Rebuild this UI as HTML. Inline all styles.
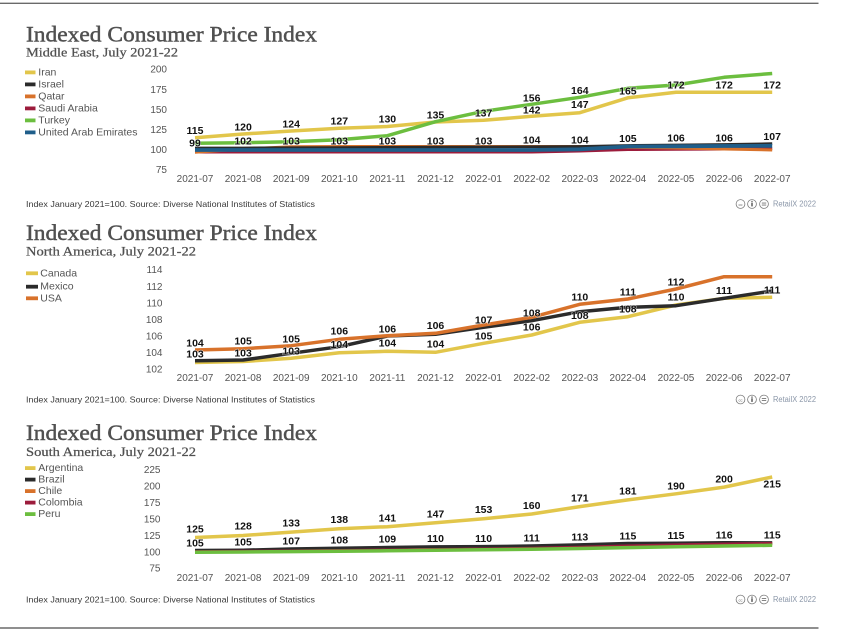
<!DOCTYPE html>
<html>
<head>
<meta charset="utf-8">
<style>
  html, body { margin:0; padding:0; background:#ffffff; }
  svg { display:block; }
  .title { font-family:"Liberation Serif", serif; font-size:22px; fill:#505050; stroke:#505050; stroke-width:0.45px; }
  .sub { font-family:"Liberation Serif", serif; font-size:13px; fill:#505050; stroke:#505050; stroke-width:0.25px; }
  .leg { font-family:"Liberation Sans", sans-serif; font-size:10.5px; fill:#555; }
  .ytk { font-family:"Liberation Sans", sans-serif; font-size:10px; fill:#555; text-anchor:end; }
  .xtk { font-family:"Liberation Sans", sans-serif; font-size:10px; fill:#555; text-anchor:middle; }
  .lbl { font-family:"Liberation Sans", sans-serif; font-size:10.5px; font-weight:bold; fill:#111; text-anchor:middle; paint-order:stroke; stroke:#ffffff; stroke-width:1.2px; stroke-opacity:0.6; }
  .foot { font-family:"Liberation Sans", sans-serif; font-size:8.5px; fill:#3a3a3a; }
  .rx { font-family:"Liberation Sans", sans-serif; font-size:8px; fill:#8a96a8; }
  .ln { fill:none; stroke-linejoin:round; stroke-linecap:butt; }
</style>
</head>
<body>
<svg width="844" height="629" viewBox="0 0 844 629" xmlns="http://www.w3.org/2000/svg">
  <rect x="0" y="0" width="844" height="629" fill="#ffffff"/>
  <line x1="0" y1="3.3" x2="818.5" y2="3.3" stroke="#6a6a6a" stroke-width="1.3"/>
  <line x1="0" y1="628" x2="818.5" y2="628" stroke="#6a6a6a" stroke-width="1.6"/>

  <!-- ================= CHART 1: MIDDLE EAST ================= -->
  <text class="title" x="26" y="41.5" textLength="291" lengthAdjust="spacingAndGlyphs">Indexed Consumer Price Index</text>
  <text class="sub" x="26" y="56.5" textLength="152" lengthAdjust="spacingAndGlyphs">Middle East, July 2021-22</text>

  <rect x="25" y="70.5" width="10.5" height="3.8" fill="#E2C64B"/>
  <text class="leg" x="38.3" y="72.3" dominant-baseline="central">Iran</text>
  <rect x="25" y="82.5" width="10.5" height="3.8" fill="#2B2B2B"/>
  <text class="leg" x="38.3" y="84.3" dominant-baseline="central">Israel</text>
  <rect x="25" y="94.5" width="10.5" height="3.8" fill="#D8722B"/>
  <text class="leg" x="38.3" y="96.3" dominant-baseline="central">Qatar</text>
  <rect x="25" y="106.5" width="10.5" height="3.8" fill="#9C1C3C"/>
  <text class="leg" x="38.3" y="108.3" dominant-baseline="central">Saudi Arabia</text>
  <rect x="25" y="118.5" width="10.5" height="3.8" fill="#6CBE3F"/>
  <text class="leg" x="38.3" y="120.3" dominant-baseline="central">Turkey</text>
  <rect x="25" y="130.5" width="10.5" height="3.8" fill="#1F5E8A"/>
  <text class="leg" x="38.3" y="132.3" dominant-baseline="central">United Arab Emirates</text>

  <text class="ytk" x="167" y="70" dominant-baseline="central">200</text>
  <text class="ytk" x="167" y="90.5" dominant-baseline="central">175</text>
  <text class="ytk" x="167" y="110.5" dominant-baseline="central">150</text>
  <text class="ytk" x="167" y="130.5" dominant-baseline="central">125</text>
  <text class="ytk" x="167" y="150.5" dominant-baseline="central">100</text>
  <text class="ytk" x="167" y="170.5" dominant-baseline="central">75</text>

  <g class="xtk">
    <text x="195" y="179.5" dominant-baseline="central">2021-07</text>
    <text x="243.1" y="179.5" dominant-baseline="central">2021-08</text>
    <text x="291.2" y="179.5" dominant-baseline="central">2021-09</text>
    <text x="339.3" y="179.5" dominant-baseline="central">2021-10</text>
    <text x="387.4" y="179.5" dominant-baseline="central">2021-11</text>
    <text x="435.5" y="179.5" dominant-baseline="central">2021-12</text>
    <text x="483.6" y="179.5" dominant-baseline="central">2022-01</text>
    <text x="531.7" y="179.5" dominant-baseline="central">2022-02</text>
    <text x="579.8" y="179.5" dominant-baseline="central">2022-03</text>
    <text x="627.9" y="179.5" dominant-baseline="central">2022-04</text>
    <text x="676" y="179.5" dominant-baseline="central">2022-05</text>
    <text x="724.1" y="179.5" dominant-baseline="central">2022-06</text>
    <text x="772.2" y="179.5" dominant-baseline="central">2022-07</text>
  </g>

  <polyline class="ln" stroke="#E2C64B" stroke-width="3.5" points="195,137.7 243.1,134 291.2,131 339.3,128.3 387.4,126.5 435.5,122 483.6,120.3 531.7,116.3 579.8,112.7 627.9,97.8 676,92.3 724.1,92.3 772.2,92.3"/>
  <polyline class="ln" stroke="#9C1C3C" stroke-width="3" points="195,152 243.1,152 291.2,152 339.3,152 387.4,152 435.5,152 483.6,152 531.7,152 579.8,151 627.9,149.5 676,149.3 724.1,149 772.2,148.6"/>
  <polyline class="ln" stroke="#D8722B" stroke-width="3" points="195,152.3 243.1,149 291.2,146.7 339.3,146.5 387.4,146.5 435.5,146.5 483.6,146.5 531.7,146.5 579.8,146.5 627.9,147.3 676,148 724.1,149 772.2,150"/>
  <polyline class="ln" stroke="#2B2B2B" stroke-width="2.8" points="195,148 243.1,148 291.2,147.8 339.3,147.6 387.4,147.4 435.5,147.2 483.6,147 531.7,146.8 579.8,146.5 627.9,145.5 676,145 724.1,144.5 772.2,143.7"/>
  <polyline class="ln" stroke="#6CBE3F" stroke-width="3.5" points="195,143.2 243.1,142.7 291.2,141.7 339.3,139.7 387.4,135.7 435.5,121.7 483.6,111.3 531.7,104.3 579.8,97.3 627.9,88.3 676,85 724.1,77.3 772.2,73.5"/>
  <polyline class="ln" stroke="#1F5E8A" stroke-width="3.8" points="195,150 243.1,150 291.2,150 339.3,150 387.4,150 435.5,150 483.6,150 531.7,150 579.8,149.3 627.9,146.5 676,146.3 724.1,146 772.2,145.8"/>

  <g class="lbl">
    <text x="195" y="131" dominant-baseline="central">115</text>
    <text x="243.1" y="127.5" dominant-baseline="central">120</text>
    <text x="291.2" y="124.3" dominant-baseline="central">124</text>
    <text x="339.3" y="121.7" dominant-baseline="central">127</text>
    <text x="387.4" y="119.3" dominant-baseline="central">130</text>
    <text x="435.5" y="115.7" dominant-baseline="central">135</text>
    <text x="483.6" y="113.5" dominant-baseline="central">137</text>
    <text x="531.7" y="110.7" dominant-baseline="central">142</text>
    <text x="579.8" y="105" dominant-baseline="central">147</text>
    <text x="627.9" y="91.7" dominant-baseline="central">165</text>
    <text x="676" y="85.7" dominant-baseline="central">172</text>
    <text x="724.1" y="85.7" dominant-baseline="central">172</text>
    <text x="772.2" y="85.7" dominant-baseline="central">172</text>
    <text x="531.7" y="98.3" dominant-baseline="central">156</text>
    <text x="579.8" y="91" dominant-baseline="central">164</text>

    <text x="195" y="143.5" dominant-baseline="central">99</text>
    <text x="243.1" y="141.3" dominant-baseline="central">102</text>
    <text x="291.2" y="141.5" dominant-baseline="central">103</text>
    <text x="339.3" y="141.5" dominant-baseline="central">103</text>
    <text x="387.4" y="141.5" dominant-baseline="central">103</text>
    <text x="435.5" y="141.5" dominant-baseline="central">103</text>
    <text x="483.6" y="141.7" dominant-baseline="central">103</text>
    <text x="531.7" y="140.7" dominant-baseline="central">104</text>
    <text x="579.8" y="140.3" dominant-baseline="central">104</text>
    <text x="627.9" y="139" dominant-baseline="central">105</text>
    <text x="676" y="138.3" dominant-baseline="central">106</text>
    <text x="724.1" y="138.3" dominant-baseline="central">106</text>
    <text x="772.2" y="137" dominant-baseline="central">107</text>
  </g>

  <text class="foot" x="26" y="204" dominant-baseline="central" textLength="289" lengthAdjust="spacingAndGlyphs">Index January 2021=100. Source: Diverse National Institutes of Statistics</text>
  <g>
    <circle cx="740.5" cy="204" r="4.4" fill="#fff" stroke="#7a7a7a" stroke-width="0.8"/>
    <text x="740.5" y="204.3" font-family="Liberation Sans, sans-serif" font-size="4" fill="#666" text-anchor="middle" dominant-baseline="central">cc</text>
    <circle cx="752" cy="204" r="4.4" fill="#fff" stroke="#7a7a7a" stroke-width="0.8"/>
    <circle cx="752" cy="201.6" r="0.8" fill="#777"/>
    <rect x="751.1" y="202.8" width="1.8" height="3.6" fill="#777"/>
    <circle cx="764" cy="204" r="4.4" fill="#fff" stroke="#7a7a7a" stroke-width="0.8"/>
    <rect x="761.8" y="202.6" width="4.4" height="0.9" fill="#777"/>
    <rect x="761.8" y="204.6" width="4.4" height="0.9" fill="#777"/>
    <text class="rx" x="773" y="204" dominant-baseline="central" textLength="43" lengthAdjust="spacingAndGlyphs">RetailX 2022</text>
  </g>

  <!-- ================= CHART 2: NORTH AMERICA ================= -->
  <text class="title" x="26" y="240" textLength="291" lengthAdjust="spacingAndGlyphs">Indexed Consumer Price Index</text>
  <text class="sub" x="26" y="255.7" textLength="170" lengthAdjust="spacingAndGlyphs">North America, July 2021-22</text>

  <rect x="26" y="271.4" width="12" height="3.8" fill="#E2C64B"/>
  <text class="leg" x="40.3" y="273.3" dominant-baseline="central">Canada</text>
  <rect x="26" y="284.8" width="12" height="3.8" fill="#2B2B2B"/>
  <text class="leg" x="40.3" y="286.7" dominant-baseline="central">Mexico</text>
  <rect x="26" y="296.4" width="12" height="3.8" fill="#D8722B"/>
  <text class="leg" x="40.3" y="298.3" dominant-baseline="central">USA</text>

  <text class="ytk" x="162.5" y="270.7" dominant-baseline="central">114</text>
  <text class="ytk" x="162.5" y="287.3" dominant-baseline="central">112</text>
  <text class="ytk" x="162.5" y="303.8" dominant-baseline="central">110</text>
  <text class="ytk" x="162.5" y="320.3" dominant-baseline="central">108</text>
  <text class="ytk" x="162.5" y="336.8" dominant-baseline="central">106</text>
  <text class="ytk" x="162.5" y="353.3" dominant-baseline="central">104</text>
  <text class="ytk" x="162.5" y="369.8" dominant-baseline="central">102</text>

  <g class="xtk">
    <text x="195" y="378.3" dominant-baseline="central">2021-07</text>
    <text x="243.1" y="378.3" dominant-baseline="central">2021-08</text>
    <text x="291.2" y="378.3" dominant-baseline="central">2021-09</text>
    <text x="339.3" y="378.3" dominant-baseline="central">2021-10</text>
    <text x="387.4" y="378.3" dominant-baseline="central">2021-11</text>
    <text x="435.5" y="378.3" dominant-baseline="central">2021-12</text>
    <text x="483.6" y="378.3" dominant-baseline="central">2022-01</text>
    <text x="531.7" y="378.3" dominant-baseline="central">2022-02</text>
    <text x="579.8" y="378.3" dominant-baseline="central">2022-03</text>
    <text x="627.9" y="378.3" dominant-baseline="central">2022-04</text>
    <text x="676" y="378.3" dominant-baseline="central">2022-05</text>
    <text x="724.1" y="378.3" dominant-baseline="central">2022-06</text>
    <text x="772.2" y="378.3" dominant-baseline="central">2022-07</text>
  </g>

  <polyline class="ln" stroke="#E2C64B" stroke-width="3.5" points="195,362.5 243.1,361.5 291.2,358.3 339.3,352.7 387.4,351.3 435.5,352.3 483.6,343.3 531.7,335 579.8,322.3 627.9,316.7 676,305 724.1,298.3 772.2,297.3"/>
  <polyline class="ln" stroke="#2B2B2B" stroke-width="3.5" points="195,360.7 243.1,360 291.2,353.3 339.3,346.7 387.4,336 435.5,334.3 483.6,327.3 531.7,320.7 579.8,311.7 627.9,307.3 676,305.7 724.1,298.3 772.2,291"/>
  <polyline class="ln" stroke="#D8722B" stroke-width="3.5" points="195,350 243.1,348.7 291.2,345.7 339.3,339.3 387.4,335.7 435.5,333.3 483.6,325 531.7,317.3 579.8,304.3 627.9,299 676,289 724.1,276.7 772.2,276.7"/>

  <g class="lbl">
    <text x="195" y="343.3" dominant-baseline="central">104</text>
    <text x="243.1" y="341.7" dominant-baseline="central">105</text>
    <text x="291.2" y="339.3" dominant-baseline="central">105</text>
    <text x="339.3" y="331.7" dominant-baseline="central">106</text>
    <text x="387.4" y="329.3" dominant-baseline="central">106</text>
    <text x="435.5" y="326" dominant-baseline="central">106</text>
    <text x="483.6" y="320.7" dominant-baseline="central">107</text>
    <text x="531.7" y="313.3" dominant-baseline="central">108</text>
    <text x="579.8" y="297.7" dominant-baseline="central">110</text>
    <text x="627.9" y="292.3" dominant-baseline="central">111</text>
    <text x="676" y="282.3" dominant-baseline="central">112</text>
    <text x="724.1" y="291" dominant-baseline="central">111</text>
    <text x="772.2" y="290.7" dominant-baseline="central">111</text>

    <text x="195" y="354.3" dominant-baseline="central">103</text>
    <text x="243.1" y="353.3" dominant-baseline="central">103</text>
    <text x="291.2" y="351.7" dominant-baseline="central">103</text>
    <text x="339.3" y="345" dominant-baseline="central">104</text>
    <text x="387.4" y="343.3" dominant-baseline="central">104</text>
    <text x="435.5" y="344.3" dominant-baseline="central">104</text>
    <text x="483.6" y="336.7" dominant-baseline="central">105</text>
    <text x="531.7" y="327.3" dominant-baseline="central">106</text>
    <text x="579.8" y="316" dominant-baseline="central">108</text>
    <text x="627.9" y="309.3" dominant-baseline="central">108</text>
    <text x="676" y="297.3" dominant-baseline="central">110</text>
  </g>

  <text class="foot" x="26" y="399.5" dominant-baseline="central" textLength="289" lengthAdjust="spacingAndGlyphs">Index January 2021=100. Source: Diverse National Institutes of Statistics</text>
  <g>
    <circle cx="740.5" cy="399.5" r="4.4" fill="#fff" stroke="#7a7a7a" stroke-width="0.8"/>
    <text x="740.5" y="399.8" font-family="Liberation Sans, sans-serif" font-size="4" fill="#666" text-anchor="middle" dominant-baseline="central">cc</text>
    <circle cx="752" cy="399.5" r="4.4" fill="#fff" stroke="#7a7a7a" stroke-width="0.8"/>
    <circle cx="752" cy="397.1" r="0.8" fill="#777"/>
    <rect x="751.1" y="398.3" width="1.8" height="3.6" fill="#777"/>
    <circle cx="764" cy="399.5" r="4.4" fill="#fff" stroke="#7a7a7a" stroke-width="0.8"/>
    <rect x="761.8" y="398.1" width="4.4" height="0.9" fill="#777"/>
    <rect x="761.8" y="400.1" width="4.4" height="0.9" fill="#777"/>
    <text class="rx" x="773" y="399.5" dominant-baseline="central" textLength="43" lengthAdjust="spacingAndGlyphs">RetailX 2022</text>
  </g>

  <!-- ================= CHART 3: SOUTH AMERICA ================= -->
  <text class="title" x="26" y="440" textLength="291" lengthAdjust="spacingAndGlyphs">Indexed Consumer Price Index</text>
  <text class="sub" x="26" y="456" textLength="170" lengthAdjust="spacingAndGlyphs">South America, July 2021-22</text>

  <rect x="25" y="466.2" width="10.5" height="3.8" fill="#E2C64B"/>
  <text class="leg" x="38.3" y="468" dominant-baseline="central">Argentina</text>
  <rect x="25" y="477.7" width="10.5" height="3.8" fill="#2B2B2B"/>
  <text class="leg" x="38.3" y="479.6" dominant-baseline="central">Brazil</text>
  <rect x="25" y="489.2" width="10.5" height="3.8" fill="#D8722B"/>
  <text class="leg" x="38.3" y="491.1" dominant-baseline="central">Chile</text>
  <rect x="25" y="500.7" width="10.5" height="3.8" fill="#9C1C3C"/>
  <text class="leg" x="38.3" y="502.6" dominant-baseline="central">Colombia</text>
  <rect x="25" y="512.2" width="10.5" height="3.8" fill="#6CBE3F"/>
  <text class="leg" x="38.3" y="514.1" dominant-baseline="central">Peru</text>

  <text class="ytk" x="160.5" y="470.7" dominant-baseline="central">225</text>
  <text class="ytk" x="160.5" y="487" dominant-baseline="central">200</text>
  <text class="ytk" x="160.5" y="503.3" dominant-baseline="central">175</text>
  <text class="ytk" x="160.5" y="520" dominant-baseline="central">150</text>
  <text class="ytk" x="160.5" y="536.6" dominant-baseline="central">125</text>
  <text class="ytk" x="160.5" y="553.2" dominant-baseline="central">100</text>
  <text class="ytk" x="160.5" y="569.2" dominant-baseline="central">75</text>

  <g class="xtk">
    <text x="195" y="578.3" dominant-baseline="central">2021-07</text>
    <text x="243.1" y="578.3" dominant-baseline="central">2021-08</text>
    <text x="291.2" y="578.3" dominant-baseline="central">2021-09</text>
    <text x="339.3" y="578.3" dominant-baseline="central">2021-10</text>
    <text x="387.4" y="578.3" dominant-baseline="central">2021-11</text>
    <text x="435.5" y="578.3" dominant-baseline="central">2021-12</text>
    <text x="483.6" y="578.3" dominant-baseline="central">2022-01</text>
    <text x="531.7" y="578.3" dominant-baseline="central">2022-02</text>
    <text x="579.8" y="578.3" dominant-baseline="central">2022-03</text>
    <text x="627.9" y="578.3" dominant-baseline="central">2022-04</text>
    <text x="676" y="578.3" dominant-baseline="central">2022-05</text>
    <text x="724.1" y="578.3" dominant-baseline="central">2022-06</text>
    <text x="772.2" y="578.3" dominant-baseline="central">2022-07</text>
  </g>

  <polyline class="ln" stroke="#E2C64B" stroke-width="3.5" points="195,537.5 243.1,535.5 291.2,532.1 339.3,528.8 387.4,526.7 435.5,522.7 483.6,518.7 531.7,514 579.8,506.6 627.9,499.9 676,493.8 724.1,487.1 772.2,477"/>
  <polyline class="ln" stroke="#2B2B2B" stroke-width="3" points="195,550.3 243.1,550 291.2,548.7 339.3,548 387.4,547.3 435.5,546.6 483.6,546.4 531.7,545.8 579.8,544.6 627.9,543.3 676,543 724.1,542.5 772.2,542.6"/>
  <polyline class="ln" stroke="#D8722B" stroke-width="3" points="195,552 243.1,551.7 291.2,551.3 339.3,550.8 387.4,550.3 435.5,549.8 483.6,549.3 531.7,548.6 579.8,547.6 627.9,546.3 676,545.3 724.1,544.5 772.2,544"/>
  <polyline class="ln" stroke="#9C1C3C" stroke-width="3" points="195,551.6 243.1,551.3 291.2,551 339.3,550.5 387.4,550 435.5,549.5 483.6,549 531.7,548.3 579.8,547.2 627.9,545.9 676,544.9 724.1,544 772.2,543.4"/>
  <polyline class="ln" stroke="#6CBE3F" stroke-width="3.5" points="195,552.3 243.1,552 291.2,551.6 339.3,551.2 387.4,550.8 435.5,550.3 483.6,549.8 531.7,549.2 579.8,548.5 627.9,547.6 676,546.8 724.1,546 772.2,545.3"/>

  <g class="lbl">
    <text x="195" y="529.3" dominant-baseline="central">125</text>
    <text x="243.1" y="526.7" dominant-baseline="central">128</text>
    <text x="291.2" y="523.3" dominant-baseline="central">133</text>
    <text x="339.3" y="520" dominant-baseline="central">138</text>
    <text x="387.4" y="518.3" dominant-baseline="central">141</text>
    <text x="435.5" y="514.3" dominant-baseline="central">147</text>
    <text x="483.6" y="510" dominant-baseline="central">153</text>
    <text x="531.7" y="506" dominant-baseline="central">160</text>
    <text x="579.8" y="498.3" dominant-baseline="central">171</text>
    <text x="627.9" y="491.7" dominant-baseline="central">181</text>
    <text x="676" y="486.7" dominant-baseline="central">190</text>
    <text x="724.1" y="479.3" dominant-baseline="central">200</text>
    <text x="772.2" y="484.3" dominant-baseline="central">215</text>

    <text x="195" y="543.3" dominant-baseline="central">105</text>
    <text x="243.1" y="542.5" dominant-baseline="central">105</text>
    <text x="291.2" y="541.7" dominant-baseline="central">107</text>
    <text x="339.3" y="540.5" dominant-baseline="central">108</text>
    <text x="387.4" y="539.6" dominant-baseline="central">109</text>
    <text x="435.5" y="539.2" dominant-baseline="central">110</text>
    <text x="483.6" y="539.2" dominant-baseline="central">110</text>
    <text x="531.7" y="538.5" dominant-baseline="central">111</text>
    <text x="579.8" y="537.5" dominant-baseline="central">113</text>
    <text x="627.9" y="536.7" dominant-baseline="central">115</text>
    <text x="676" y="535.8" dominant-baseline="central">115</text>
    <text x="724.1" y="535.7" dominant-baseline="central">116</text>
    <text x="772.2" y="535.7" dominant-baseline="central">115</text>
  </g>

  <text class="foot" x="26" y="599.5" dominant-baseline="central" textLength="289" lengthAdjust="spacingAndGlyphs">Index January 2021=100. Source: Diverse National Institutes of Statistics</text>
  <g>
    <circle cx="740.5" cy="599.5" r="4.4" fill="#fff" stroke="#7a7a7a" stroke-width="0.8"/>
    <text x="740.5" y="599.8" font-family="Liberation Sans, sans-serif" font-size="4" fill="#666" text-anchor="middle" dominant-baseline="central">cc</text>
    <circle cx="752" cy="599.5" r="4.4" fill="#fff" stroke="#7a7a7a" stroke-width="0.8"/>
    <circle cx="752" cy="597.1" r="0.8" fill="#777"/>
    <rect x="751.1" y="598.3" width="1.8" height="3.6" fill="#777"/>
    <circle cx="764" cy="599.5" r="4.4" fill="#fff" stroke="#7a7a7a" stroke-width="0.8"/>
    <rect x="761.8" y="598.1" width="4.4" height="0.9" fill="#777"/>
    <rect x="761.8" y="600.1" width="4.4" height="0.9" fill="#777"/>
    <text class="rx" x="773" y="599.5" dominant-baseline="central" textLength="43" lengthAdjust="spacingAndGlyphs">RetailX 2022</text>
  </g>
</svg>
</body>
</html>
